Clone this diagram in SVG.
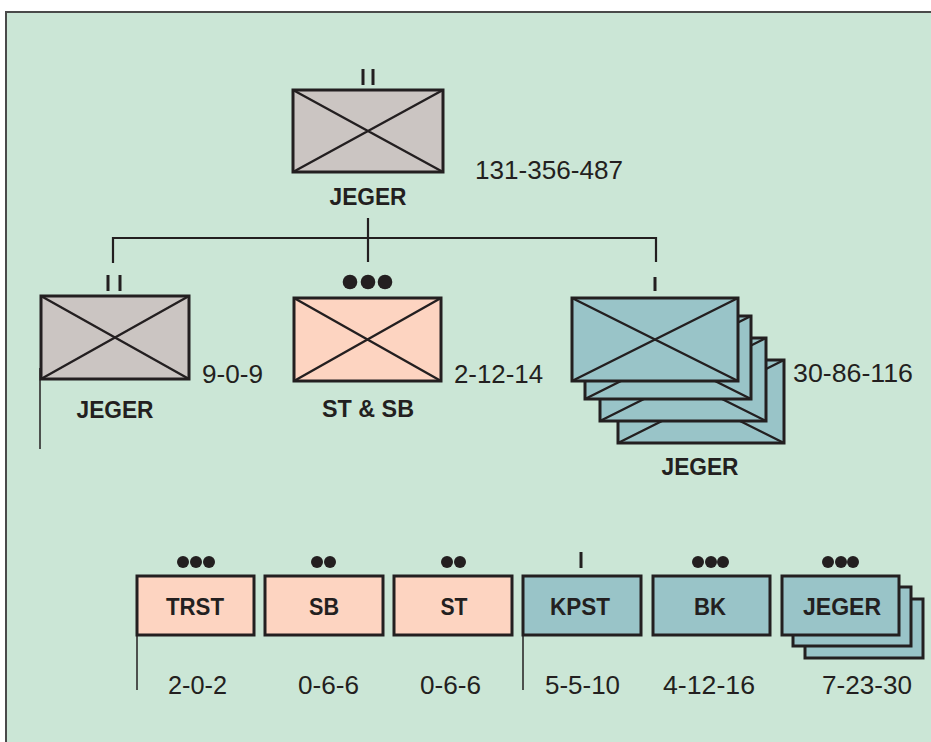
<svg xmlns="http://www.w3.org/2000/svg" width="931" height="742" viewBox="0 0 931 742">
<defs>
<style>
.bg{fill:#cbe6d6;stroke:#4a4a4a;stroke-width:2}
.box{stroke:#231f20;stroke-width:3}
.gray{fill:#cbc5c2}
.sal{fill:#fdd4c1}
.teal{fill:#99c4c8}
.x{stroke:#231f20;stroke-width:2.4;fill:none}
.ln{stroke:#231f20;stroke-width:2.2;fill:none}
.thin{stroke:#231f20;stroke-width:1.5;fill:none}
.lbl{font-family:"Liberation Sans",Arial,sans-serif;font-weight:bold;font-size:24px;fill:#231f20;text-anchor:middle}
.num{font-family:"Liberation Sans",Arial,sans-serif;font-size:25px;fill:#231f20}
.dot{fill:#231f20}
</style>
</defs>
<rect width="931" height="742" fill="#ffffff"/>
<rect class="bg" x="6" y="12" width="935" height="740"/>

<g id="connectors">
<line class="ln" x1="368" y1="218" x2="368" y2="262"/>
<polyline class="ln" points="113,263 113,238 656,238 656,262"/>
<line class="thin" x1="40" y1="368" x2="40" y2="449"/>
<line class="thin" x1="137" y1="635" x2="137" y2="690"/>
<line class="thin" x1="523" y1="635" x2="523" y2="690"/>
</g>

<g id="top">
<rect x="361.5" y="69" width="3" height="16" class="dot"/>
<rect x="371.5" y="69" width="3" height="16" class="dot"/>
<rect class="box gray" x="293" y="90" width="150" height="82"/>
<path class="x" d="M293,90 L443,172 M443,90 L293,172"/>
<text class="lbl" x="368" y="205" textLength="77" lengthAdjust="spacingAndGlyphs">JEGER</text>
<text class="num" x="475" y="179" textLength="148" lengthAdjust="spacingAndGlyphs">131-356-487</text>
</g>

<g id="jeger-left">
<rect x="106.5" y="275" width="3" height="16" class="dot"/>
<rect x="118.5" y="275" width="3" height="16" class="dot"/>
<rect class="box gray" x="41" y="296" width="148" height="83"/>
<path class="x" d="M41,296 L189,379 M189,296 L41,379"/>
<text class="lbl" x="115" y="418" textLength="77" lengthAdjust="spacingAndGlyphs">JEGER</text>
<text class="num" x="202" y="383" textLength="61" lengthAdjust="spacingAndGlyphs">9-0-9</text>
</g>

<g id="st-sb">
<circle class="dot" cx="350" cy="282" r="7.3"/>
<circle class="dot" cx="368" cy="282" r="7.3"/>
<circle class="dot" cx="385" cy="282" r="7.3"/>
<rect class="box sal" x="294" y="298" width="147" height="83"/>
<path class="x" d="M294,298 L441,381 M441,298 L294,381"/>
<text class="lbl" x="368" y="417" textLength="92" lengthAdjust="spacingAndGlyphs">ST &amp; SB</text>
<text class="num" x="454" y="383" textLength="89" lengthAdjust="spacingAndGlyphs">2-12-14</text>
</g>

<g id="jeger-right">
<rect x="653.5" y="277" width="3" height="14" class="dot"/>
<rect class="box teal" x="618" y="360" width="166" height="83"/>
<path class="x" d="M618,360 L784,443 M784,360 L618,443"/>
<rect class="box teal" x="600" y="338" width="166" height="83"/>
<path class="x" d="M600,338 L766,421 M766,338 L600,421"/>
<rect class="box teal" x="585" y="316" width="166" height="83"/>
<path class="x" d="M585,316 L751,399 M751,316 L585,399"/>
<rect class="box teal" x="572" y="298" width="166" height="83"/>
<path class="x" d="M572,298 L738,381 M738,298 L572,381"/>
<text class="lbl" x="700" y="475" textLength="77" lengthAdjust="spacingAndGlyphs">JEGER</text>
<text class="num" x="793" y="382" textLength="120" lengthAdjust="spacingAndGlyphs">30-86-116</text>
</g>

<g id="trst">
<circle class="dot" cx="183" cy="562" r="6"/>
<circle class="dot" cx="196" cy="562" r="6"/>
<circle class="dot" cx="209" cy="562" r="6"/>
<rect class="box sal" x="137" y="576" width="117" height="59"/>
<text class="lbl" x="195" y="615" textLength="58" lengthAdjust="spacingAndGlyphs">TRST</text>
<text class="num" x="168" y="694" textLength="59" lengthAdjust="spacingAndGlyphs">2-0-2</text>
</g>

<g id="sb">
<circle class="dot" cx="317" cy="562" r="6"/>
<circle class="dot" cx="330" cy="562" r="6"/>
<rect class="box sal" x="265" y="576" width="118" height="59"/>
<text class="lbl" x="324" y="615" textLength="30" lengthAdjust="spacingAndGlyphs">SB</text>
<text class="num" x="298" y="694" textLength="61" lengthAdjust="spacingAndGlyphs">0-6-6</text>
</g>

<g id="st">
<circle class="dot" cx="447" cy="562" r="6"/>
<circle class="dot" cx="460" cy="562" r="6"/>
<rect class="box sal" x="394" y="576" width="118" height="59"/>
<text class="lbl" x="454" y="615" textLength="27" lengthAdjust="spacingAndGlyphs">ST</text>
<text class="num" x="420" y="694" textLength="61" lengthAdjust="spacingAndGlyphs">0-6-6</text>
</g>

<g id="kpst">
<rect x="579.5" y="552" width="3" height="16" class="dot"/>
<rect class="box teal" x="523" y="576" width="118" height="59"/>
<text class="lbl" x="580" y="615" textLength="60" lengthAdjust="spacingAndGlyphs">KPST</text>
<text class="num" x="545" y="694" textLength="75" lengthAdjust="spacingAndGlyphs">5-5-10</text>
</g>

<g id="bk">
<circle class="dot" cx="698" cy="562" r="6"/>
<circle class="dot" cx="711" cy="562" r="6"/>
<circle class="dot" cx="723" cy="562" r="6"/>
<rect class="box teal" x="653" y="576" width="117" height="59"/>
<text class="lbl" x="710" y="615" textLength="32" lengthAdjust="spacingAndGlyphs">BK</text>
<text class="num" x="663" y="694" textLength="92" lengthAdjust="spacingAndGlyphs">4-12-16</text>
</g>

<g id="jeger-small">
<circle class="dot" cx="828" cy="562" r="6"/>
<circle class="dot" cx="841" cy="562" r="6"/>
<circle class="dot" cx="853" cy="562" r="6"/>
<rect class="box teal" x="805" y="599" width="118" height="59"/>
<rect class="box teal" x="793" y="587" width="118" height="59"/>
<rect class="box teal" x="782" y="576" width="117" height="59"/>
<text class="lbl" x="842" y="615" textLength="78" lengthAdjust="spacingAndGlyphs">JEGER</text>
<text class="num" x="822" y="694" textLength="90" lengthAdjust="spacingAndGlyphs">7-23-30</text>
</g>
</svg>
